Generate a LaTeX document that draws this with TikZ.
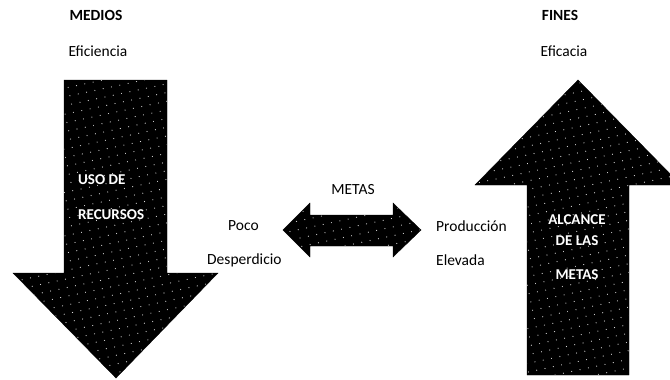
\documentclass[tikz,border=0pt]{standalone}
\usepackage{fontspec}
\setmainfont{Carlito}
\usetikzlibrary{patterns.meta}

\tikzdeclarepattern{
  name=fewdots,
  type=uncolored,
  bottom left={(-1pt,-1pt)},
  top right={(1pt,1pt)},
  tile size={(8.5pt,8.5pt)},
  tile transformation={rotate=12},
  code={\fill (0,0) circle (0.6pt);}
}

\begin{document}
\begin{tikzpicture}[x=1pt, y=-1pt,
		bigarrow/.style={draw=black, preaction={fill=black}, pattern=fewdots, pattern color=white!85!black},
		lbl/.style={font=\fontsize{15.5}{18}\selectfont, inner sep=1pt},
		head/.style={lbl, font=\fontsize{15.5}{18}\selectfont\bfseries},
		inlbl/.style={lbl, text=white, font=\fontsize{15}{18}\selectfont\bfseries}
	]
	\useasboundingbox (0,0) rectangle (670,380);

	\node[head] (medios) at (96,15) {MEDIOS};
	\node[lbl] (eficiencia) at (98,51) {Eficiencia};
	\node[head] (fines) at (560,15) {FINES};
	\node[lbl] (eficacia) at (564,51) {Eficacia};

	\draw[bigarrow] (64,80) -- (167,80) -- (167,273) -- (218,273) -- (116,378) -- (13,273) -- (64,273) -- cycle;
	\draw[bigarrow] (578,80) -- (681,185) -- (629,185) -- (629,375) -- (527,375) -- (527,185) -- (475,185) -- cycle;
	\draw[bigarrow] (283,230) -- (310,203) -- (310,215) -- (393,215) -- (393,203) -- (421,230) -- (393,257) -- (393,246) -- (310,246) -- (310,257) -- cycle;

	\node[inlbl, anchor=west] (uso) at (77,180) {USO DE};
	\node[inlbl, anchor=west] (recursos) at (77,215) {RECURSOS};

	\node[inlbl] (alcance) at (577,220) {ALCANCE};
	\node[inlbl] (delas) at (577,241) {DE LAS};
	\node[inlbl] (metasin) at (577,275) {METAS};

	\node[lbl] (metas) at (353,190) {METAS};
	\node[lbl, anchor=west] (poco) at (227,226) {Poco};
	\node[lbl, anchor=west] (desperdicio) at (206,260) {Desperdicio};
	\node[lbl, anchor=west] (produccion) at (435,226) {Producción};
	\node[lbl, anchor=west] (elevada) at (435,260) {Elevada};
\end{tikzpicture}
\end{document}
